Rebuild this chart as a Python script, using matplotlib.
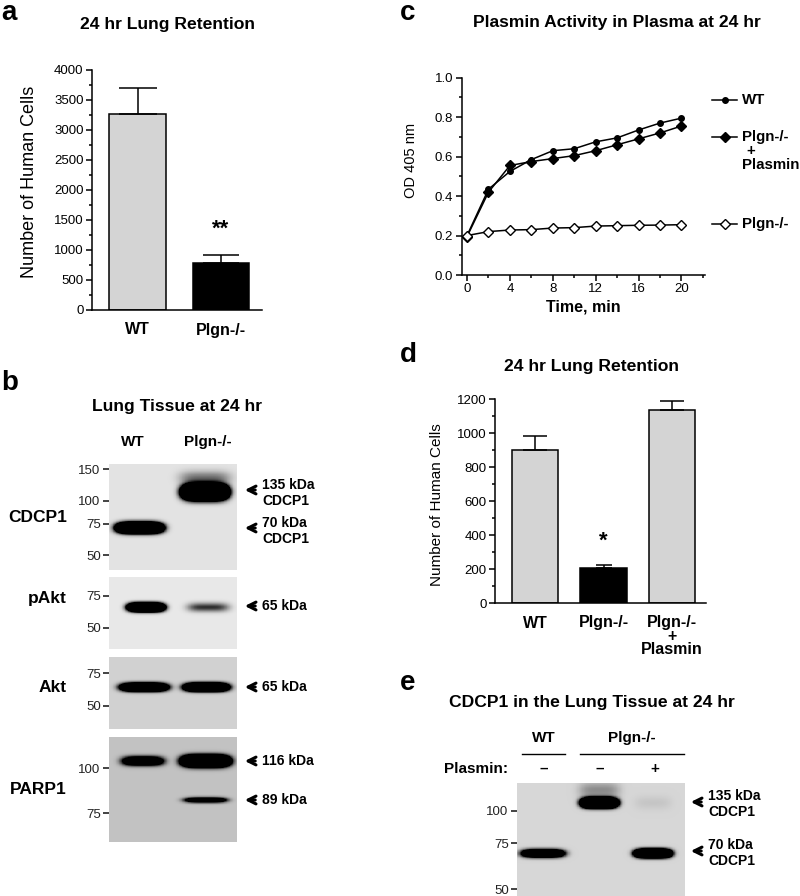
import numpy as np
import matplotlib.pyplot as plt
from matplotlib.ticker import MultipleLocator

plt.rcParams['font.family'] = ['Liberation Sans', 'DejaVu Sans']

W, H = 800, 896

# a: 24 hr lung retention
groups_a = ['WT', 'Plgn-/-']
cells_a = [3270, 790]
err_a = [430, 130]

# c: plasmin activity
time_c = [0, 2, 4, 6, 8, 10, 12, 14, 16, 18, 20]
od_wt = [0.20, 0.435, 0.525, 0.585, 0.63, 0.64, 0.675, 0.695, 0.735, 0.77, 0.795]
od_plgn_plasmin = [0.195, 0.42, 0.555, 0.575, 0.59, 0.605, 0.63, 0.66, 0.69, 0.72, 0.755]
od_plgn = [0.20, 0.22, 0.228, 0.23, 0.238, 0.24, 0.248, 0.25, 0.252, 0.253, 0.255]

# d: lung retention with plasmin
groups_d = ['WT', 'Plgn-/-', 'Plgn-/-\n+\nPlasmin']
cells_d = [900, 205, 1135]
err_d = [80, 17, 55]

# blots: (lane, apparent kDa, strength, width, half-thickness in ln kDa)
lanes_b = ['WT', 'Plgn-/-']
cdcp1_marks = [150, 100, 75, 50]
cdcp1_bands = [(0, 71, 9.0, 0.43, 0.095), (1, 112, 12.0, 0.43, 0.14), (1, 134, 0.5, 0.36, 0.07)]
pakt_marks = [75, 50]
pakt_bands = [(0, 65, 7.0, 0.34, 0.075), (1, 65, 0.8, 0.29, 0.045)]
akt_marks = [75, 50]
akt_bands = [(0, 63, 6.0, 0.43, 0.068), (1, 63, 7.0, 0.41, 0.07)]
parp_marks = [100, 75]
parp_bands = [(0, 104.6, 3.0, 0.36, 0.035), (1, 104.6, 9.0, 0.45, 0.052), (1, 81.5, 2.5, 0.36, 0.02)]

lanes_e = ['WT', 'Plgn-/-']
plasmin_e = ['\u2013', '\u2013', '+']
e_marks = [100, 75, 50]
e_bands = [(0, 68.6, 4.0, 0.29, 0.045), (1, 107.4, 10.0, 0.26, 0.062), (1, 120, 0.35, 0.22, 0.06),
           (2, 68.6, 8.0, 0.26, 0.053), (2, 107.4, 0.08, 0.2, 0.05)]

fig = plt.figure(figsize=(W / 100, H / 100), dpi=100)


def px_axes(x0, y0, x1, y1):
    return fig.add_axes([x0 / W, 1 - y1 / H, (x1 - x0) / W, (y1 - y0) / H])


def style_axis(ax):
    for s in ['top', 'right']:
        ax.spines[s].set_visible(False)
    for s in ['left', 'bottom']:
        ax.spines[s].set_linewidth(1.1)
    ax.tick_params(axis='both', which='major', length=4, width=1.1, labelsize=9.5, pad=2)
    ax.tick_params(axis='both', which='minor', length=2.5, width=1.1)


def bar_panel(ax, groups, values, errs, colors, caps):
    x = np.arange(len(values))
    ax.bar(x, values, width=0.68, color=colors, edgecolor='black', linewidth=1.1, zorder=2)
    for i in range(len(values)):
        ax.errorbar(x[i], values[i], yerr=[[0], [errs[i]]], fmt='none', ecolor='black',
                    elinewidth=1.1, capsize=caps[i], capthick=1.1, zorder=3)
    style_axis(ax)
    ax.set_xticks(x)
    ax.set_xticklabels(groups, fontweight='bold', fontsize=11.5, linespacing=0.85, va='top')
    ax.tick_params(axis='x', length=0, pad=9)


def draw_blot(ax, bands, centers, bg, ylim, marks):
    xs = np.linspace(0, 1, 300)
    ys = np.geomspace(ylim[0], ylim[1], 300)
    X, Y = np.meshgrid(xs, ys)
    dark = np.zeros_like(X)
    for lane, kda, amp, width, thick in bands:
        dx = (X - centers[lane]) / (width / 2)
        dy = (np.log(Y) - np.log(kda)) / thick
        k = np.log(2 * max(amp, 1.0))
        dark += amp * np.exp(-k * (dx ** 4 + dy ** 2))
    img = bg * (1 - np.clip(dark, 0, 1))
    ax.pcolormesh(xs, ys, img, cmap='gray', vmin=0, vmax=1, shading='auto')
    ax.set_yscale('log')
    ax.set_ylim(ylim)
    ax.set_xlim(0, 1)
    ax.set_xticks([])
    ax.set_yticks(marks)
    ax.set_yticks([], minor=True)
    ax.set_yticklabels([str(m) for m in marks])
    ax.tick_params(axis='y', length=4, width=1.2, labelsize=9.5, pad=2, colors='#222222')
    for s in ax.spines.values():
        s.set_visible(False)


# panel a
ax_a = px_axes(92, 70, 262, 310)
bar_panel(ax_a, groups_a, cells_a, err_a, ['#d4d4d4', 'black'], [14, 13])
ax_a.set_xlim(-0.545, 1.49)
ax_a.set_ylim(0, 4000)
ax_a.yaxis.set_major_locator(MultipleLocator(500))
ax_a.yaxis.set_minor_locator(MultipleLocator(250))
ax_a.set_ylabel('Number of Human Cells', fontsize=13)
ax_a.yaxis.set_label_coords(-0.32, 0.533)
ax_a.text(1, cells_a[1] + err_a[1] + 420, '**', ha='center', va='center', fontsize=16, fontweight='bold')

# panel c
ax_c = px_axes(461.7, 77.7, 705, 275)
ax_c.plot(time_c, od_wt, color='black', lw=1.1, marker='o', ms=4, zorder=3)
ax_c.plot(time_c, od_plgn_plasmin, color='black', lw=1.1, marker='D', ms=5.5, zorder=3)
ax_c.plot(time_c, od_plgn, color='black', lw=1.1, marker='D', ms=5, mfc='white', mec='black', mew=1, zorder=3)
style_axis(ax_c)
ax_c.set_xlim(-0.5, 22.2)
ax_c.set_ylim(0, 1)
ax_c.xaxis.set_major_locator(MultipleLocator(4))
ax_c.xaxis.set_minor_locator(MultipleLocator(2))
ax_c.yaxis.set_major_locator(MultipleLocator(0.2))
ax_c.yaxis.set_minor_locator(MultipleLocator(0.1))
ax_c.yaxis.set_major_formatter(plt.FormatStrFormatter('%.1f'))
ax_c.set_xlabel('Time, min', fontsize=11.5, fontweight='bold', labelpad=3)
ax_c.set_ylabel('OD 405 nm', fontsize=10.5)
ax_c.yaxis.set_label_coords(-0.18, 0.58)

# panel d
ax_d = px_axes(495, 399, 706, 603)
bar_panel(ax_d, groups_d, cells_d, err_d, ['#d4d4d4', 'black', '#d4d4d4'], [8.6, 6, 8.6])
ax_d.set_xlim(-0.584, 2.496)
ax_d.set_ylim(0, 1200)
ax_d.yaxis.set_major_locator(MultipleLocator(200))
ax_d.yaxis.set_minor_locator(MultipleLocator(100))
ax_d.set_ylabel('Number of Human Cells', fontsize=11)
ax_d.yaxis.set_label_coords(-0.24, 0.48)
ax_d.text(1, cells_d[1] + err_d[1] + 140, '*', ha='center', va='center', fontsize=16, fontweight='bold')

# panel b blots
ax_b1 = px_axes(109, 464, 237, 570)
draw_blot(ax_b1, cdcp1_bands, [0.24, 0.75], 0.89, (41.5, 160), cdcp1_marks)
ax_b2 = px_axes(109, 577, 237, 649)
draw_blot(ax_b2, pakt_bands, [0.29, 0.775], 0.91, (38.3, 95.4), pakt_marks)
ax_b3 = px_axes(109, 657, 237, 729)
draw_blot(ax_b3, akt_bands, [0.275, 0.76], 0.82, (37.6, 91.4), akt_marks)
ax_b4 = px_axes(109, 737, 237, 842)
draw_blot(ax_b4, parp_bands, [0.265, 0.755], 0.76, (62.3, 122), parp_marks)

# panel e blot
ax_e = px_axes(517, 783, 685, 896)
draw_blot(ax_e, e_bands, [0.155, 0.49, 0.81], 0.84, (47, 128), e_marks)

# overlay for free text
ov = fig.add_axes([0, 0, 1, 1])
ov.set_xlim(0, W)
ov.set_ylim(H, 0)
ov.axis('off')

for letter, x, y in [('a', 1, 13), ('b', 1, 383), ('c', 400, 13), ('d', 400, 355), ('e', 400, 683)]:
    ov.text(x, y, letter, fontsize=20, fontweight='bold', ha='left', va='center')

title_kw = dict(fontsize=12.6, fontweight='bold', ha='center', va='center')
ov.text(168, 24, '24 hr Lung Retention', **title_kw)
ov.text(617, 22, 'Plasmin Activity in Plasma at 24 hr', **title_kw)
ov.text(177, 406, 'Lung Tissue at 24 hr', **title_kw)
ov.text(592, 367, '24 hr Lung Retention', **title_kw)
ov.text(592, 703, 'CDCP1 in the Lung Tissue at 24 hr', **title_kw)

# legend keys of panel c
leg_kw = dict(fontsize=10.8, fontweight='bold', ha='left', va='center')
ov.plot([712, 737], [100, 100], color='black', lw=1.1)
ov.plot(725, 100, marker='o', ms=4, color='black')
ov.text(742, 100, 'WT', **leg_kw)
ov.plot([712, 737], [137, 137], color='black', lw=1.1)
ov.plot(725, 137, marker='D', ms=5.5, color='black')
ov.text(742, 137, 'Plgn-/-', **leg_kw)
ov.text(751, 151, '+', fontsize=10.8, fontweight='bold', ha='center', va='center')
ov.text(742, 165, 'Plasmin', **leg_kw)
ov.plot([712, 737], [224, 224], color='black', lw=1.1)
ov.plot(725, 224, marker='D', ms=5, mfc='white', mec='black', mew=1)
ov.text(742, 224, 'Plgn-/-', **leg_kw)

# panel b labels
head_kw = dict(fontsize=11, fontweight='bold', ha='center', va='center')
ov.text(133, 442, lanes_b[0], **head_kw)
ov.text(208, 442, lanes_b[1], **head_kw)
name_kw = dict(fontsize=12.5, fontweight='bold', ha='right', va='center')
ov.text(67, 518, 'CDCP1', **name_kw)
ov.text(67, 599, 'pAkt', **name_kw)
ov.text(67, 687, 'Akt', **name_kw)
ov.text(67, 790, 'PARP1', **name_kw)


def arrow_label(x, y, text, yt=None):
    ov.annotate('', xy=(x, y), xytext=(x + 16, y),
                arrowprops=dict(arrowstyle='->', lw=2.2, color='black', mutation_scale=14))
    ov.text(x + 20, y if yt is None else yt, text, fontsize=10, fontweight='bold',
            ha='left', va='center', linespacing=1.15)


arrow_label(242, 490, '135 kDa\nCDCP1', 493)
arrow_label(242, 528, '70 kDa\nCDCP1', 531)
arrow_label(242, 606, '65 kDa')
arrow_label(242, 687, '65 kDa')
arrow_label(242, 761, '116 kDa')
arrow_label(242, 800, '89 kDa')

# panel e header
ov.text(544, 738, lanes_e[0], **head_kw)
ov.text(632, 738, lanes_e[1], **head_kw)
ov.plot([522, 565], [754, 754], color='black', lw=1)
ov.plot([580, 684], [754, 754], color='black', lw=1)
ov.text(508, 769, 'Plasmin:', fontsize=11, fontweight='bold', ha='right', va='center')
for xc, s in zip([544, 600, 655], plasmin_e):
    ov.text(xc, 769, s, fontsize=11, fontweight='bold', ha='center', va='center')
arrow_label(688, 802, '135 kDa\nCDCP1', 804)
arrow_label(688, 851, '70 kDa\nCDCP1', 853)

fig.savefig('out.png', dpi=100)
